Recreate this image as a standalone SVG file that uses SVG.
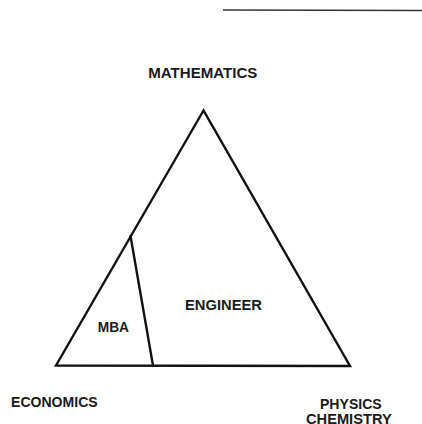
<svg xmlns="http://www.w3.org/2000/svg" width="422" height="424" viewBox="0 0 422 424">
<style>
.t{font-family:"Liberation Sans",Arial,sans-serif;font-weight:bold;font-size:15px;fill:#1a1a1a}
.l{stroke:#111;stroke-width:2.4;fill:none;stroke-linejoin:miter;stroke-linecap:round}
</style>
<rect width="422" height="424" fill="#fff"/>
<line x1="223" y1="10" x2="422" y2="10.5" stroke="#333" stroke-width="1.5"/>
<g id="connectors">
<polygon class="l" points="203.5,110.5 56,365.5 350,366"/>
<line class="l" x1="130.5" y1="236" x2="153" y2="365.5"/>
</g>
<g id="mathematics"><text class="t" x="148.3" y="78.3" style="font-size:15.5px" textLength="109" lengthAdjust="spacingAndGlyphs">MATHEMATICS</text></g>
<g id="engineer"><text class="t" x="185" y="310" textLength="77" lengthAdjust="spacingAndGlyphs">ENGINEER</text></g>
<g id="mba"><text class="t" x="97.7" y="331.7" textLength="31.3" lengthAdjust="spacingAndGlyphs">MBA</text></g>
<g id="economics"><text class="t" x="11" y="407.3" textLength="86.7" lengthAdjust="spacingAndGlyphs">ECONOMICS</text></g>
<g id="physics-chemistry"><text class="t" x="320" y="409" textLength="61.7" lengthAdjust="spacingAndGlyphs">PHYSICS</text>
<text class="t" x="306" y="424" textLength="85.7" lengthAdjust="spacingAndGlyphs">CHEMISTRY</text></g>
</svg>
